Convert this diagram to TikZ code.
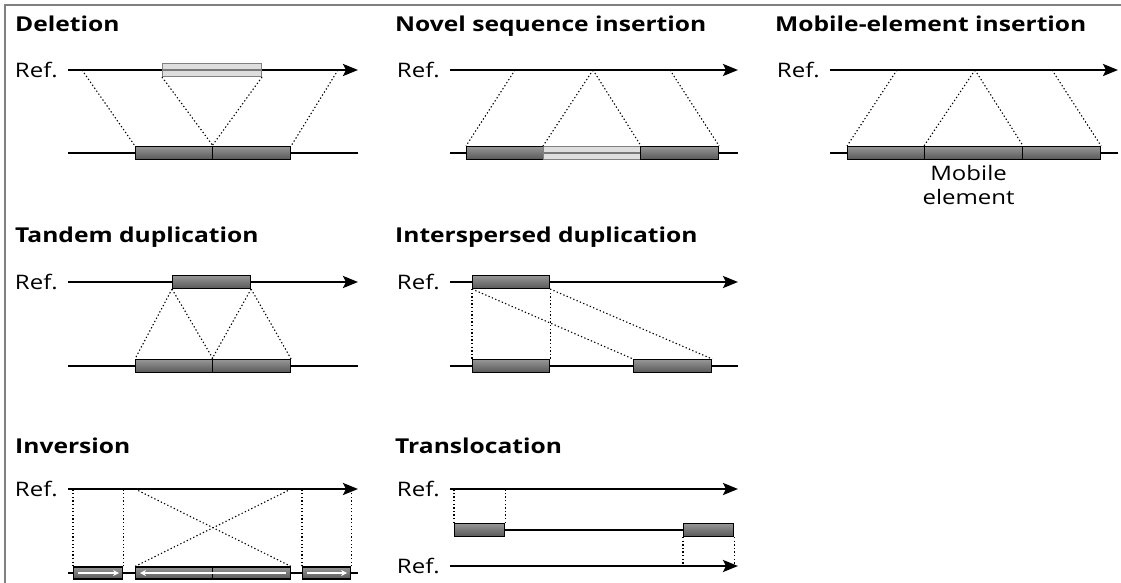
\documentclass[tikz,border=0pt]{standalone}
\usepackage{fontspec}
\setmainfont{Open Sans}[FakeStretch=1.2]
\usetikzlibrary{arrows.meta}
\definecolor{segtop}{RGB}{150,150,150}
\definecolor{segbot}{RGB}{88,88,88}
\definecolor{gonegray}{RGB}{200,200,200}
\begin{document}
\begin{tikzpicture}[
        x = 1pt, y = -1pt,
        title/.style    = {anchor=base west, inner sep=0pt, font=\bfseries\fontsize{20.5}{25}\selectfont},
        reflab/.style   = {anchor=east, inner sep=0pt, font=\fontsize{20}{24}\selectfont},
        refline/.style  = {line width=2.4pt, -{Stealth[length=15pt,width=12pt,inset=3pt]}},
        strand/.style   = {line width=2.2pt},
        seg/.style      = {draw=black, line width=1.1pt, top color=segtop, bottom color=segbot,
                           minimum height=13pt, inner sep=0pt, anchor=west},
        gone/.style     = {draw=gray, line width=1pt, fill=gonegray, fill opacity=0.6,
                           minimum height=13pt, inner sep=0pt, anchor=west},
        link/.style     = {line width=1.1pt, dash pattern=on 1.3pt off 2.3pt},
        turn/.style     = {white, line width=1.6pt, -{Stealth[length=6pt,width=6pt]}}
      ]
    \useasboundingbox (0,0) rectangle (1121,583);
    \draw[gray, line width=1.3pt] (5,583) -- (5,5) -- (1121,5);

    % Deletion
    \node[title] (del-t) at (15,32) {Deletion};
    \coordinate (del-s) at (68,70);
    \coordinate (del-e) at (358,70);
    \node[reflab] (del-ref) at ([xshift=-10pt]del-s) {Ref.};
    \draw[refline] (del-s) -- (del-e);
    \coordinate (del-b) at (68,153);
    \coordinate (del-be) at (358,153);
    \draw[strand] (del-b) -- (del-be);
    \node[seg, minimum width=77pt] (del-l) at (135,153) {};
    \node[seg, minimum width=78pt] (del-r) at (212,153) {};
    \node[gone, minimum width=99pt] (del-gap) at (162,70) {};
    \coordinate (del-p1) at (82,70);
    \coordinate (del-p2) at (338,70);
    \draw[link] (del-p1) -- (del-l.north west);
    \draw[link] (del-gap.south west) -- (del-l.north east);
    \draw[link] (del-gap.south east) -- (del-r.north west);
    \draw[link] (del-p2) -- (del-r.north east);

    % Novel sequence insertion
    \node[title] (nov-t) at (395,32) {Novel sequence insertion};
    \coordinate (nov-s) at (450,70);
    \coordinate (nov-e) at (738,70);
    \node[reflab] (nov-ref) at ([xshift=-10pt]nov-s) {Ref.};
    \draw[refline] (nov-s) -- (nov-e);
    \coordinate (nov-b) at (450,153);
    \coordinate (nov-be) at (738,153);
    \draw[strand] (nov-b) -- (nov-be);
    \node[seg, minimum width=77pt] (nov-l) at (466,153) {};
    \node[gone, minimum width=97pt] (nov-m) at (543,153) {};
    \node[seg, minimum width=78pt] (nov-r) at (640,153) {};
    \coordinate (nov-p1) at (515,70);
    \coordinate (nov-p2) at (593,70);
    \coordinate (nov-p3) at (670,70);
    \draw[link] (nov-p1) -- (nov-l.north west);
    \draw[link] (nov-p2) -- (nov-m.north west);
    \draw[link] (nov-p2) -- (nov-m.north east);
    \draw[link] (nov-p3) -- (nov-r.north east);

    % Mobile-element insertion
    \node[title] (mob-t) at (775,32) {Mobile-element insertion};
    \coordinate (mob-s) at (830,70);
    \coordinate (mob-e) at (1118,70);
    \node[reflab] (mob-ref) at ([xshift=-10pt]mob-s) {Ref.};
    \draw[refline] (mob-s) -- (mob-e);
    \coordinate (mob-b) at (830,153);
    \coordinate (mob-be) at (1118,153);
    \draw[strand] (mob-b) -- (mob-be);
    \node[seg, minimum width=77pt] (mob-l) at (847,153) {};
    \node[seg, minimum width=98pt] (mob-m) at (924,153) {};
    \node[seg, minimum width=78pt] (mob-r) at (1022,153) {};
    \node[align=center, font=\fontsize{20}{23.5}\selectfont, below=2pt] (mob-txt) at ([xshift=-5pt]mob-m.south) {Mobile\\element};
    \coordinate (mob-p1) at (897,70);
    \coordinate (mob-p2) at (975,70);
    \coordinate (mob-p3) at (1052,70);
    \draw[link] (mob-p1) -- (mob-l.north west);
    \draw[link] (mob-p2) -- (mob-m.north west);
    \draw[link] (mob-p2) -- (mob-m.north east);
    \draw[link] (mob-p3) -- (mob-r.north east);

    % Tandem duplication
    \node[title] (tan-t) at (15,242) {Tandem duplication};
    \coordinate (tan-s) at (68,282);
    \coordinate (tan-e) at (358,282);
    \node[reflab] (tan-ref) at ([xshift=-10pt]tan-s) {Ref.};
    \draw[refline] (tan-s) -- (tan-e);
    \node[seg, minimum width=78pt] (tan-a) at (172,282) {};
    \coordinate (tan-b) at (68,366);
    \coordinate (tan-be) at (358,366);
    \draw[strand] (tan-b) -- (tan-be);
    \node[seg, minimum width=77pt] (tan-l) at (135,366) {};
    \node[seg, minimum width=78pt] (tan-r) at (212,366) {};
    \draw[link] (tan-a.south west) -- (tan-l.north west);
    \draw[link] (tan-a.south west) -- (tan-l.north east);
    \draw[link] (tan-a.south east) -- (tan-r.north west);
    \draw[link] (tan-a.south east) -- (tan-r.north east);

    % Interspersed duplication
    \node[title] (int-t) at (395,242) {Interspersed duplication};
    \coordinate (int-s) at (450,282);
    \coordinate (int-e) at (738,282);
    \node[reflab] (int-ref) at ([xshift=-10pt]int-s) {Ref.};
    \draw[refline] (int-s) -- (int-e);
    \node[seg, minimum width=77pt] (int-a) at (472,282) {};
    \coordinate (int-b) at (450,366);
    \coordinate (int-be) at (738,366);
    \draw[strand] (int-b) -- (int-be);
    \node[seg, minimum width=77pt] (int-l) at (472,366) {};
    \node[seg, minimum width=78pt] (int-r) at (633,366) {};
    \draw[link] (int-a.south west) -- (int-l.north west);
    \draw[link] (int-a.south east) -- (int-l.north east);
    \draw[link] (int-a.south west) -- (int-r.north west);
    \draw[link] (int-a.south east) -- (int-r.north east);

    % Inversion
    \node[title] (inv-t) at (15,453) {Inversion};
    \coordinate (inv-s) at (68,489);
    \coordinate (inv-e) at (358,489);
    \node[reflab] (inv-ref) at ([xshift=-10pt]inv-s) {Ref.};
    \draw[refline] (inv-s) -- (inv-e);
    \coordinate (inv-b) at (68,573);
    \coordinate (inv-be) at (358,573);
    \draw[strand] (inv-b) -- (inv-be);
    \node[seg, minimum width=49pt, minimum height=12pt] (inv-a) at (73,573) {};
    \node[seg, minimum width=77pt, minimum height=12pt] (inv-l) at (135,573) {};
    \node[seg, minimum width=78pt, minimum height=12pt] (inv-r) at (212,573) {};
    \node[seg, minimum width=48pt, minimum height=12pt] (inv-c) at (302,573) {};
    \draw[turn] ([xshift=5pt]inv-a.west) -- ([xshift=-4pt]inv-a.east);
    \draw[turn] ([xshift=-5pt]inv-r.east) -- ([xshift=5pt]inv-l.west);
    \draw[turn] ([xshift=5pt]inv-c.west) -- ([xshift=-4pt]inv-c.east);
    \draw[link] (inv-a.north west) -- (inv-a.north west |- inv-s);
    \draw[link] (inv-a.north east) -- (inv-a.north east |- inv-s);
    \draw[link] (inv-c.north west) -- (inv-c.north west |- inv-s);
    \draw[link] (inv-c.north east) -- (inv-c.north east |- inv-s);
    \draw[link] (inv-l.north west |- inv-s) -- (inv-r.north east);
    \draw[link] (inv-r.north east |- inv-s) -- (inv-l.north west);

    % Translocation
    \node[title] (tra-t) at (395,453) {Translocation};
    \coordinate (tra-s) at (450,489);
    \coordinate (tra-e) at (738,489);
    \node[reflab] (tra-ref) at ([xshift=-10pt]tra-s) {Ref.};
    \draw[refline] (tra-s) -- (tra-e);
    \node[seg, minimum width=50pt] (tra-a) at (454,530) {};
    \node[seg, minimum width=50pt] (tra-b) at (683,530) {};
    \draw[line width=1.2pt] (tra-a.east) -- (tra-b.west);
    \coordinate (tra-s2) at (450,566);
    \coordinate (tra-e2) at (738,566);
    \node[reflab] (tra-ref2) at ([xshift=-10pt]tra-s2) {Ref.};
    \draw[refline] (tra-s2) -- (tra-e2);
    \draw[link] (tra-a.north west) -- (tra-a.north west |- tra-s);
    \draw[link] (tra-a.north east) -- (tra-a.north east |- tra-s);
    \draw[link] (tra-b.south west) -- (tra-b.south west |- tra-s2);
    \draw[link] (tra-b.south east) -- (tra-b.south east |- tra-s2);
\end{tikzpicture}
\end{document}
